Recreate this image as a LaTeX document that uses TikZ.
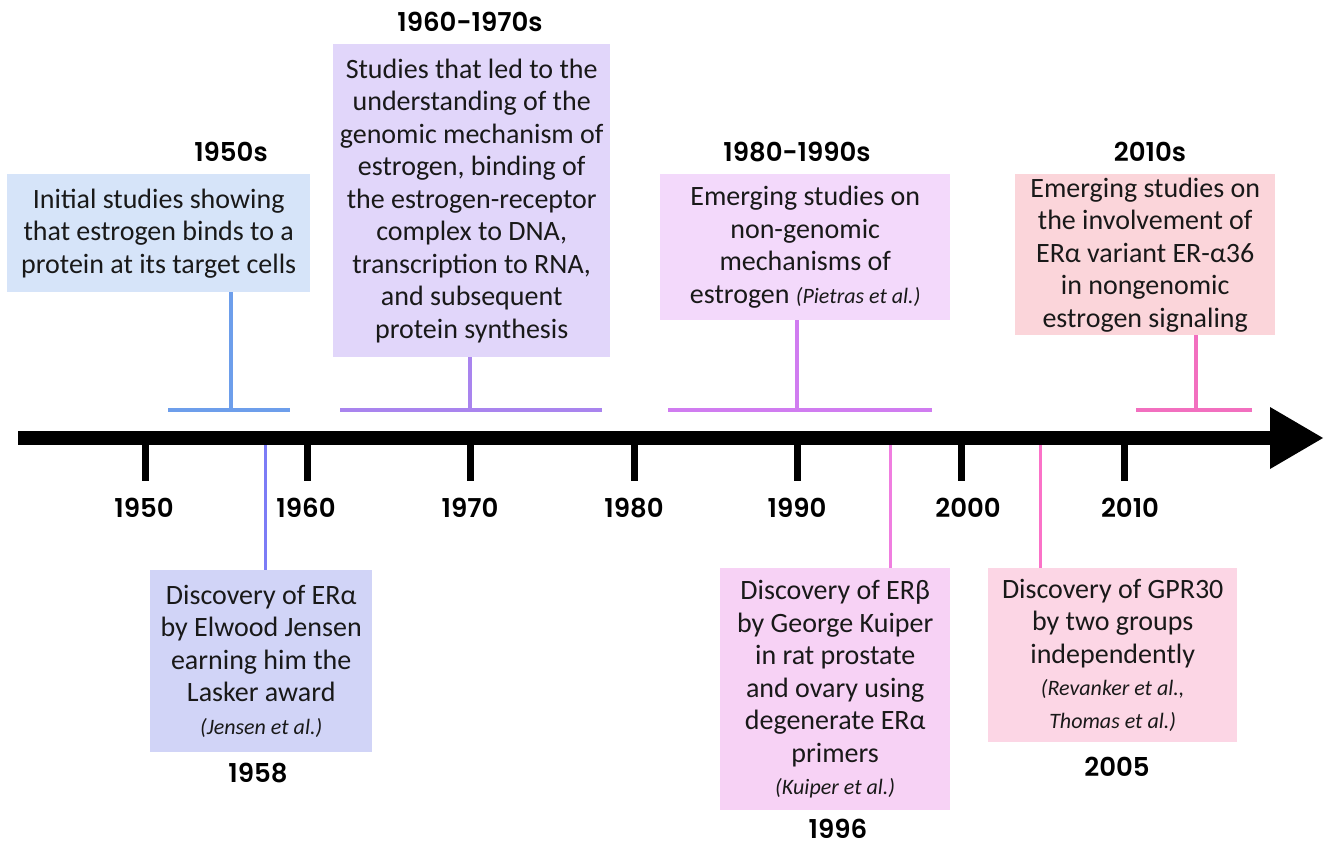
\documentclass[tikz,border=0pt]{standalone}
\usepackage{fontspec}
\setmainfont{Carlito}
\newfontfamily\headfont{Poppins}[BoldFont={Poppins SemiBold}]
\definecolor{lnA}{HTML}{6D9EEB}\definecolor{bxA}{HTML}{D6E4F9}
\definecolor{lnB}{HTML}{A984EE}\definecolor{bxB}{HTML}{E1D6FA}
\definecolor{lnC}{HTML}{D07CF0}\definecolor{bxC}{HTML}{F3D9FB}
\definecolor{lnD}{HTML}{F26FBF}\definecolor{bxD}{HTML}{FBD5DA}
\definecolor{lnE}{HTML}{7C7CF6}\definecolor{bxE}{HTML}{D1D4F7}
\definecolor{lnF}{HTML}{F07EE0}\definecolor{bxF}{HTML}{F7D2F5}
\definecolor{lnG}{HTML}{FB72C8}\definecolor{bxG}{HTML}{FCD6E5}
\tikzset{
  evbox/.style={anchor=north west, inner sep=0pt, align=center,
    font=\fontsize{28}{32.5}\selectfont, text=black!90},
  head/.style={inner sep=0pt, font=\headfont\bfseries\fontsize{26}{30}\selectfont},
  yearlab/.style={inner sep=0pt, font=\headfont\bfseries\fontsize{26}{30}\selectfont},
  tick/.style={line width=7pt},
  conn/.style={line width=3.5pt}
}
\newcommand{\refx}[1]{{\fontsize{22}{26}\selectfont\itshape #1}}
\begin{document}
\begin{tikzpicture}[x=1pt,y=-1pt]
\useasboundingbox (0,0) rectangle (1333,846);
% axis
\coordinate (axS) at (18,438);
\coordinate (axE) at (1272,438);
\coordinate (tipT) at (1270,407);
\coordinate (tipP) at (1323,438);
\coordinate (tipB) at (1270,469);
\draw[line width=14pt] (axS) -- (axE);
\fill (tipT) -- (tipP) -- (tipB) -- cycle;
% ticks and year labels
\foreach \x/\y/\lx in {145/1950/144,307/1960/306,470/1970/470,634/1980/634,797/1990/797,961/2000/968,1124/2010/1130}{
  \coordinate (t\y a) at (\x,438);
  \coordinate (t\y b) at (\x,481);
  \draw[tick] (t\y a) -- (t\y b);
  \node[yearlab] (l\y) at (\lx,508) {\y};
}
% ---------- above ----------
\node[head] (h50) at (231,152) {1950s};
\node[evbox, fill=bxA, minimum width=303, minimum height=118] (b50) at (7,174)
 {Initial studies showing\\that estrogen binds to a\\protein at its target cells};
\coordinate (j50) at (231,410);
\coordinate (bar50a) at (168,410); \coordinate (bar50b) at (290,410);
\draw[conn, lnA] (b50.south -| j50) -- (j50);
\draw[conn, lnA] (bar50a) -- (bar50b);

\node[head] (h60) at (470,22) {1960-1970s};
\node[evbox, fill=bxB, minimum width=277, minimum height=313] (b60) at (333,44)
 {Studies that led to the\\understanding of the\\genomic mechanism of\\estrogen, binding of\\the estrogen-receptor\\complex to DNA,\\transcription to RNA,\\and subsequent\\protein synthesis};
\coordinate (j60) at (470,410);
\coordinate (bar60a) at (340,410); \coordinate (bar60b) at (602,410);
\draw[conn, lnB] (b60.south -| j60) -- (j60);
\draw[conn, lnB] (bar60a) -- (bar60b);

\node[head] (h80) at (797,152) {1980-1990s};
\node[evbox, fill=bxC, minimum width=290, minimum height=146] (b80) at (660,174)
 {Emerging studies on\\non-genomic\\mechanisms of\\estrogen \refx{(Pietras et al.)}};
\coordinate (j80) at (797,410);
\coordinate (bar80a) at (668,410); \coordinate (bar80b) at (932,410);
\draw[conn, lnC] (b80.south -| j80) -- (j80);
\draw[conn, lnC] (bar80a) -- (bar80b);

\node[head] (h10) at (1150,152) {2010s};
\node[evbox, fill=bxD, minimum width=260, minimum height=161] (b10) at (1015,174)
 {Emerging studies on\\the involvement of\\ERα variant ER-α36\\in nongenomic\\estrogen signaling};
\coordinate (j10) at (1196,410);
\coordinate (bar10a) at (1136,410); \coordinate (bar10b) at (1252,410);
\draw[conn, lnD] (b10.south -| j10) -- (j10);
\draw[conn, lnD] (bar10a) -- (bar10b);

% ---------- below ----------
\node[evbox, fill=bxE, minimum width=222, minimum height=182] (b58) at (150,570)
 {Discovery of ERα\\by Elwood Jensen\\earning him the\\Lasker award\\\refx{(Jensen et al.)}};
\coordinate (a58) at (265,445);
\draw[conn, lnE, line width=3pt] (a58) -- (b58.north -| a58);
\node[yearlab] (y58) at (258,773) {1958};

\node[evbox, fill=bxF, minimum width=230, minimum height=242] (b96) at (720,568)
 {Discovery of ERβ\\by George Kuiper\\in rat prostate\\and ovary using\\degenerate ERα\\primers\\\refx{(Kuiper et al.)}};
\coordinate (a96) at (890,445);
\draw[conn, lnF, line width=3pt] (a96) -- (b96.north -| a96);
\node[yearlab] (y96) at (838,829) {1996};

\node[evbox, fill=bxG, minimum width=249, minimum height=174] (b05) at (988,568)
 {Discovery of GPR30\\by two groups\\independently\\\refx{(Revanker et al.,}\\\refx{Thomas et al.)}};
\coordinate (a05) at (1040,445);
\draw[conn, lnG, line width=3pt] (a05) -- (b05.north -| a05);
\node[yearlab] (y05) at (1117,767) {2005};
\end{tikzpicture}
\end{document}
